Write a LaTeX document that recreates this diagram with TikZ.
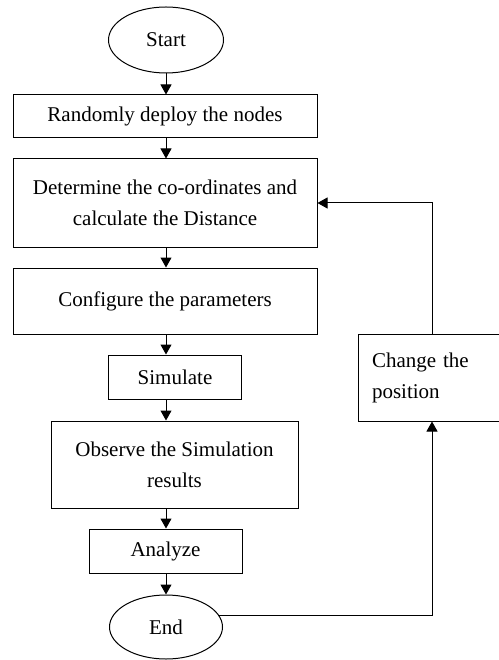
\documentclass[tikz,border=0pt]{standalone}
\usepackage{fontspec}
\setmainfont{Liberation Serif}
\usepackage{tikz}
\usetikzlibrary{shapes.geometric, arrows.meta, positioning, calc}

\begin{document}
\begin{tikzpicture}[x=1pt, y=-1pt,
    procbox/.style={draw, line width=1pt, rectangle, align=center, inner sep=0pt},
    termnode/.style={draw, line width=1pt, ellipse, inner sep=0pt},
    flowarrow/.style={line width=1pt, -{Triangle[length=10pt, width=11pt]}}]
    \useasboundingbox (0,0) rectangle (498,660);
    \fontsize{21}{31}\selectfont

    % Terminals
    \node[termnode, minimum width=115, minimum height=66] (start) at (166, 40) {Start};
    \node[termnode, minimum width=113, minimum height=64] (end) at (166, 627) {End};

    % Main column
    \node[procbox, minimum width=304, minimum height=43] (deploy) at (165, 116.5) {Randomly deploy the nodes};
    \node[procbox, minimum width=304, minimum height=88] (determine) at (165, 203) {Determine the co-ordinates and\\calculate the Distance};
    \node[procbox, minimum width=304, minimum height=66] (configure) at (165, 301) {Configure the parameters};
    \node[procbox, minimum width=133, minimum height=44] (simulate) at (175, 377) {Simulate};
    \node[procbox, minimum width=247, minimum height=87] (observe) at (174.5, 464.5) {Observe the Simulation\\results};
    \node[procbox, minimum width=153, minimum height=44] (analyze) at (165.5, 551) {Analyze};

    % Feedback box
    \node[procbox, align=left, text width=120, minimum width=148, minimum height=87] (change) at (432, 377.5) {Change the\\position};

    % Arrows down the column
    \draw[flowarrow] (start) -- (start |- deploy.north);
    \draw[flowarrow] (start |- deploy.south) -- (start |- determine.north);
    \draw[flowarrow] (start |- determine.south) -- (start |- configure.north);
    \draw[flowarrow] (start |- configure.south) -- (start |- simulate.north);
    \draw[flowarrow] (start |- simulate.south) -- (start |- observe.north);
    \draw[flowarrow] (start |- observe.south) -- (start |- analyze.north);
    \draw[flowarrow] (start |- analyze.south) -- (end);

    % Loop back
    \draw[flowarrow] (end.12) -| (change.south);
    \draw[flowarrow] (change.north) |- (determine.east);
\end{tikzpicture}
\end{document}
